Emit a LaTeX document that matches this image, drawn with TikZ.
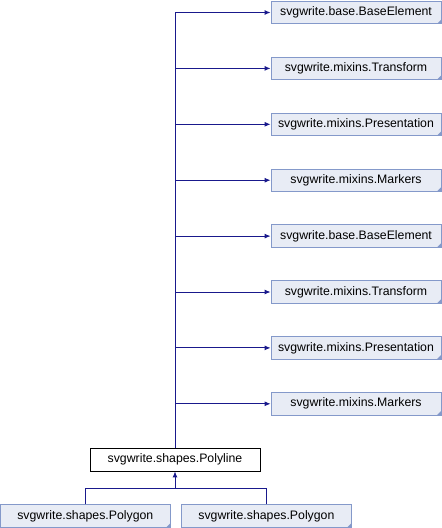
\documentclass[tikz,border=0pt]{standalone}
\usepackage{fontspec}
\setmainfont{Liberation Sans}
\usetikzlibrary{arrows.meta}
\definecolor{boxfill}{RGB}{232,236,245}
\definecolor{boxline}{RGB}{132,153,202}
\definecolor{edgecol}{RGB}{25,25,140}
\tikzset{
  cls/.style={draw=boxline, fill=boxfill, line width=0.9pt, minimum width=170pt, minimum height=22.5pt, inner sep=0pt,
    font=\fontsize{12.3}{14}\selectfont,
    path picture={\fill[boxline] (path picture bounding box.south east) -- ++(-4pt,0) -- ++(4pt,4pt) -- cycle;}},
  mainbox/.style={draw=black, fill=white, line width=0.9pt, minimum width=170pt, minimum height=22.5pt, inner sep=0pt,
    font=\fontsize{12.3}{14}\selectfont},
  edge/.style={draw=edgecol, line width=0.9pt, -{Latex[length=6pt,width=5pt]}},
  plainedge/.style={draw=edgecol, line width=0.9pt}
}
\begin{document}
\begin{tikzpicture}[x=1pt,y=-1pt]
\useasboundingbox (0,0) rectangle (442,528);
\node[cls] (b1) at (356,12.5) {svgwrite.base.BaseElement};
\node[cls] (b2) at (356,68.4) {svgwrite.mixins.Transform};
\node[cls] (b3) at (356,124.3) {svgwrite.mixins.Presentation};
\node[cls] (b4) at (356,180.2) {svgwrite.mixins.Markers};
\node[cls] (b5) at (356,236.1) {svgwrite.base.BaseElement};
\node[cls] (b6) at (356,292) {svgwrite.mixins.Transform};
\node[cls] (b7) at (356,347.9) {svgwrite.mixins.Presentation};
\node[cls] (b8) at (356,403.8) {svgwrite.mixins.Markers};
\node[mainbox] (poly) at (175,459.7) {svgwrite.shapes.Polyline};
\node[cls] (pg1) at (85.3,516) {svgwrite.shapes.Polygon};
\node[cls] (pg2) at (266.4,516) {svgwrite.shapes.Polygon};
\foreach \n in {b1,b2,b3,b4,b5,b6,b7,b8}{
  \draw[edge] (poly.north) |- (\n.west);
}
\coordinate (j) at (175,488.3);
\draw[plainedge] (pg2.north) |- (j);
\draw[edge] (pg1.north) |- (j) -- (poly.south);
\end{tikzpicture}
\end{document}
